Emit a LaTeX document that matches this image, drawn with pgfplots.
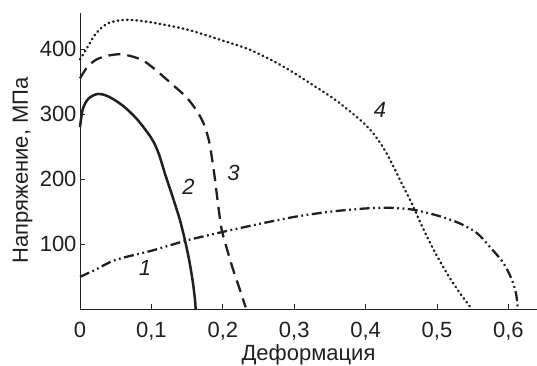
\documentclass[border=0pt]{standalone}
\usepackage{pgfplots}
\pgfplotsset{compat=1.18}
\usepackage{fontspec}
\setmainfont{Liberation Sans}
\definecolor{ink}{HTML}{231F20}
\begin{document}
\begin{tikzpicture}
\useasboundingbox (-80bp,-56.7bp) rectangle (457bp,309.3bp);
\begin{axis}[
  scale only axis, width=457bp, height=296bp,
  xmin=0, xmax=0.64, ymin=0, ymax=455,
  axis lines=left, axis line style={-, line width=0.8bp, ink},
  xtick={0,0.1,0.2,0.3,0.4,0.5,0.6}, ytick={100,200,300,400},
  tick align=inside, major tick length=5bp,
  tick style={line width=0.8bp, ink},
  /pgf/number format/use comma,
  /pgf/number format/assume math mode=true,
  ticklabel style={font=\fontsize{22bp}{26bp}\selectfont, text=ink},
  xticklabel style={yshift=-9bp},
  label style={font=\fontsize{22bp}{26bp}\selectfont, text=ink},
  xlabel={Деформация},
  ylabel={Напряжение, МПа},
  xlabel style={at={(axis description cs:0.5,0)}, anchor=base, yshift=-51bp},
  ylabel style={at={(axis description cs:0,0.5)}, anchor=base, xshift=-9bp, yshift=52bp},
  clip=false,
]
% curve 1: dash-dot-dot
\addplot[ink, line width=2.3bp, smooth, dash pattern=on 10bp off 3.5bp on 1.8bp off 3.5bp on 1.8bp off 3.5bp] coordinates {
(0,50) (0.02,60) (0.05,76) (0.1,90) (0.15,106) (0.2,119) (0.25,131) (0.3,142) (0.35,150) (0.4,155) (0.434,156) (0.467,153) (0.504,143) (0.532,132) (0.556,117) (0.574,96) (0.593,71) (0.605,45) (0.611,22) (0.613,0)};
% curve 2: solid
\addplot[ink, line width=2.5bp, smooth] coordinates {
(0,280) (0.004,308) (0.012,324) (0.025,331) (0.04,327) (0.06,313) (0.08,292) (0.1,263) (0.11,240) (0.12,205) (0.13,172) (0.14,137) (0.147,106) (0.153,75) (0.158,42) (0.161,15) (0.162,0)};
% curve 3: dashed
\addplot[ink, line width=2.3bp, smooth, dash pattern=on 12bp off 7bp] coordinates {
(0,355) (0.01,372) (0.023,384) (0.04,390) (0.056,392) (0.072,389) (0.089,382) (0.107,367) (0.131,344) (0.149,326) (0.163,306) (0.173,286) (0.18,262) (0.184,238) (0.189,200) (0.1935,160) (0.1985,122) (0.206,92) (0.2147,60) (0.224,30) (0.232,3)};
% curve 4: dotted
\addplot[ink, line width=2.4bp, smooth, line cap=round, dash pattern=on 0.7bp off 4bp] coordinates {
(0,384) (0.01,402) (0.023,425) (0.04,440) (0.065,445) (0.1,441) (0.15,430) (0.2,413) (0.24,398) (0.285,373) (0.33,342) (0.36,320) (0.3945,289) (0.411,270) (0.425,248) (0.4365,225) (0.453,188) (0.465,162) (0.478,130) (0.495,92) (0.514,55) (0.532,25) (0.547,3)};
\node[font=\fontsize{22bp}{26bp}\selectfont\itshape, text=ink] at (axis cs:0.091,63) {1};
\node[font=\fontsize{22bp}{26bp}\selectfont\itshape, text=ink] at (axis cs:0.152,189) {2};
\node[font=\fontsize{22bp}{26bp}\selectfont\itshape, text=ink] at (axis cs:0.215,209) {3};
\node[font=\fontsize{22bp}{26bp}\selectfont\itshape, text=ink] at (axis cs:0.42,307) {4};
\end{axis}
\end{tikzpicture}
\end{document}
